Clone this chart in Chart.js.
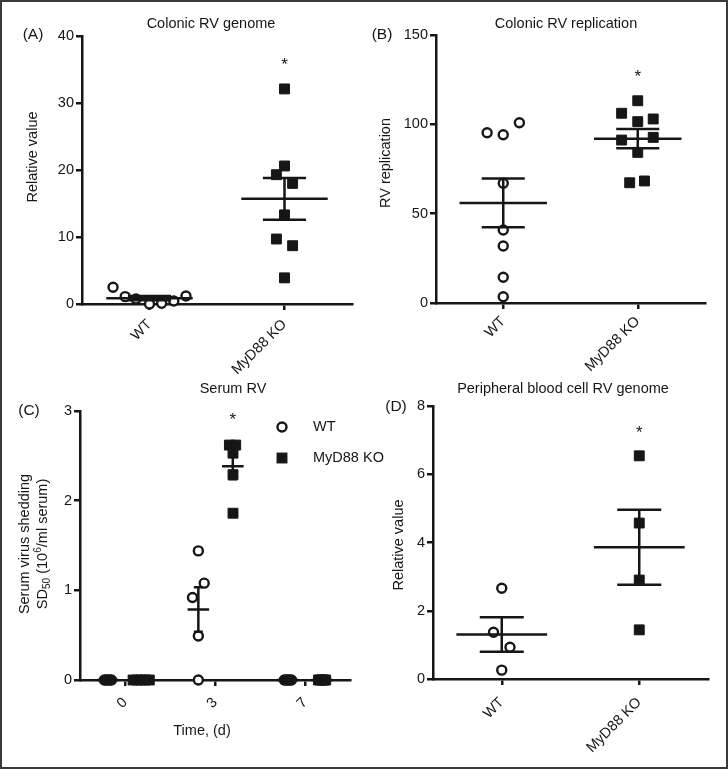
<!DOCTYPE html>
<html>
<head>
<meta charset="utf-8">
<script src="https://cdn.jsdelivr.net/npm/chart.js@4.4.1/dist/chart.umd.min.js"></script>
<style>
  html, body { margin: 0; padding: 0; background: #fff; }
  #fig { position: relative; width: 728px; height: 769px; overflow: hidden; }
  #fig canvas { position: absolute; left: 0; top: 0; }
  #frame { position: absolute; left: 0; top: 0; width: 728px; height: 769px; box-sizing: border-box; border: 2px solid #3a3a3a; pointer-events: none; }
</style>
</head>
<body>
<div id="fig">
  <canvas id="chartA" width="728" height="769"></canvas>
  <canvas id="chartB" width="728" height="769"></canvas>
  <canvas id="chartC" width="728" height="769"></canvas>
  <canvas id="chartD" width="728" height="769"></canvas>
  <div id="frame"></div>
</div>
<script>
// ---- data ----
const groups = ['WT', 'MyD88 KO'];

// (A) colonic RV genome, relative value
const genomeWT = [2.5, 1.1, 0.75, 0, 0.1, 0.45, 1.2];
const genomeWTJitter = [-0.27, -0.18, -0.1, 0, 0.09, 0.18, 0.27];
const genomeKO = [32.1, 20.6, 19.3, 18.0, 13.3, 9.7, 8.7, 3.9];
const genomeKOJitter = [0, 0, -0.06, 0.06, 0, -0.06, 0.06, 0];
const genomeStar = 35.6;

// (B) colonic RV replication
const replWT = [95.3, 94.2, 100.9, 67, 40.9, 31.9, 14.4, 3.5];
const replWTJitter = [-0.12, 0, 0.12, 0, 0, 0, 0, 0];
const replKO = [113.2, 106.2, 101.5, 103, 91.2, 92.7, 84.3, 67.3, 68.3];
const replKOJitter = [0, -0.12, 0, 0.115, -0.12, 0.115, 0, -0.06, 0.05];
const replStar = 126.5;

// (C) serum RV, SD50 (10^6/ml serum) by day
const days = ['0', '3', '7'];
const serumWT = [[0, 0, 0, 0, 0], [1.44, 1.08, 0.92, 0.49, 0], [0, 0, 0, 0, 0]];
const serumWTJitter = [[-0.23, -0.21, -0.19, -0.17, -0.15], [-0.185, -0.12, -0.25, -0.185, -0.185], [-0.23, -0.21, -0.19, -0.17, -0.15]];
const serumKO = [[0, 0, 0, 0, 0], [2.62, 2.62, 2.53, 2.29, 1.86], [0, 0, 0, 0, 0]];
const serumKOJitter = [[0.09, 0.135, 0.18, 0.225, 0.27], [0.16, 0.23, 0.2, 0.2, 0.2], [0.15, 0.17, 0.19, 0.21, 0.23]];
const serumKOStar = [null, 2.9, null];

// (D) peripheral blood cell RV genome
const bloodWT = [2.66, 1.37, 0.93, 0.26];
const bloodWTJitter = [0, -0.06, 0.06, 0];
const bloodKO = [6.54, 4.57, 2.9, 1.44];
const bloodKOJitter = [0, 0, 0, 0];
const bloodStar = 7.2;

// ---- styling ----
const INK = '#161616';
const FONT = '"Liberation Sans", Arial, Helvetica, sans-serif';
const W = 728, H = 769;
const Y_W = 50, X_H = 85;

// points packed on top of each other read as one solid blob in the original
const crowded = c => {
  const pts = c.dataset.data, p = c.raw;
  return !!p && pts.some(q => q !== p && q.y === p.y && Math.abs(q.x - p.x) < 0.05);
};
const wtStyle = { pointStyle: 'circle', pointRadius: 4.5, pointBorderWidth: 2.4, pointBorderColor: INK,
                  pointBackgroundColor: c => crowded(c) ? INK : '#fff' };
const koStyle = { pointStyle: 'rect', pointRadius: 7, pointBorderWidth: 1, pointBorderColor: INK, pointBackgroundColor: INK };

const toPoints = (vals, jit, pos) => vals.map((v, i) => ({ x: pos + jit[i], y: v }));
const avg = a => a.reduce((s, v) => s + v, 0) / a.length;

// mean +/- SEM bars and significance stars
const meanSemPlugin = {
  id: 'meanSem',
  afterDatasetsDraw(chart, args, o) {
    const { ctx } = chart;
    const x = chart.scales.x, y = chart.scales.y;
    ctx.save();
    ctx.strokeStyle = INK;
    ctx.lineWidth = 2.5;
    for (const g of o.groups) {
      const n = g.values.length;
      const m = avg(g.values);
      const sd = Math.sqrt(g.values.reduce((s, v) => s + (v - m) ** 2, 0) / (n - 1));
      const sem = sd / Math.sqrt(n);
      const yM = y.getPixelForValue(m), yHi = y.getPixelForValue(m + sem), yLo = y.getPixelForValue(m - sem);
      ctx.beginPath();
      ctx.moveTo(x.getPixelForValue(g.x - o.half), yM); ctx.lineTo(x.getPixelForValue(g.x + o.half), yM);
      ctx.moveTo(x.getPixelForValue(g.x - o.cap), yHi); ctx.lineTo(x.getPixelForValue(g.x + o.cap), yHi);
      ctx.moveTo(x.getPixelForValue(g.x - o.cap), yLo); ctx.lineTo(x.getPixelForValue(g.x + o.cap), yLo);
      ctx.moveTo(x.getPixelForValue(g.x), yHi); ctx.lineTo(x.getPixelForValue(g.x), yLo);
      ctx.stroke();
      if (g.star != null) {
        ctx.fillStyle = INK;
        ctx.font = `17px ${FONT}`;
        ctx.textAlign = 'center';
        ctx.textBaseline = 'middle';
        ctx.fillText('*', x.getPixelForValue(g.x), y.getPixelForValue(g.star));
      }
    }
    ctx.restore();
  }
};

function drawRich(ctx, line, cx, cy, rot, size) {
  const segs = typeof line === 'string' ? [{ t: line }] : line;
  const fontFor = s => `${(s.sub || s.sup) ? size * 0.7 : size}px ${FONT}`;
  let total = 0;
  for (const s of segs) { ctx.font = fontFor(s); s.w = ctx.measureText(s.t).width; total += s.w; }
  ctx.save();
  ctx.translate(cx, cy);
  ctx.rotate(rot);
  ctx.textAlign = 'left';
  ctx.textBaseline = 'middle';
  let xx = -total / 2;
  for (const s of segs) {
    ctx.font = fontFor(s);
    const dy = s.sub ? size * 0.3 : s.sup ? -size * 0.35 : 0;
    ctx.fillText(s.t, xx, dy);
    xx += s.w;
  }
  ctx.restore();
}

// panel titles, letters, axis titles, legend
const figTextPlugin = {
  id: 'figText',
  afterDraw(chart, args, o) {
    const ctx = chart.ctx;
    ctx.save();
    ctx.fillStyle = INK;
    drawRich(ctx, o.title, o.titleX, o.titleY, 0, 14.5);
    drawRich(ctx, o.letter, o.letterX, o.letterY, 0, 15.5);
    o.yTitle.forEach((line, i) => drawRich(ctx, line, o.yTitleX[i], o.yTitleY, -Math.PI / 2, 14.5));
    if (o.xTitle) drawRich(ctx, o.xTitle, o.xTitleX, o.xTitleY, 0, 14.5);
    if (o.legend) {
      chart.data.datasets.forEach((ds, i) => {
        const lx = o.legend.x, ly = o.legend.y[i];
        ctx.lineWidth = ds.pointBorderWidth;
        ctx.strokeStyle = ds.pointBorderColor;
        ctx.fillStyle = typeof ds.pointBackgroundColor === 'function' ? '#fff' : ds.pointBackgroundColor;
        if (ds.pointStyle === 'circle') {
          ctx.beginPath(); ctx.arc(lx, ly, ds.pointRadius, 0, Math.PI * 2); ctx.fill(); ctx.stroke();
        } else {
          const h = Math.SQRT1_2 * ds.pointRadius;
          ctx.fillRect(lx - h, ly - h, 2 * h, 2 * h); ctx.strokeRect(lx - h, ly - h, 2 * h, 2 * h);
        }
        ctx.fillStyle = INK;
        ctx.font = `14.5px ${FONT}`;
        ctx.textAlign = 'left';
        ctx.textBaseline = 'middle';
        ctx.fillText(ds.label, o.legend.textX, ly);
      });
    }
    ctx.restore();
  }
};

function xAxis(labels, labelGap) {
  return {
    type: 'linear', min: 0.5, max: labels.length + 0.5,
    afterBuildTicks: s => { s.ticks = labels.map((l, i) => ({ value: i + 1 })); },
    afterFit: s => { s.height = X_H; },
    ticks: { callback: v => labels[Math.round(v) - 1], minRotation: 45, maxRotation: 45, autoSkip: false, padding: labelGap, color: INK, font: { family: FONT, size: 14.5 } },
    grid: { drawOnChartArea: false, tickLength: 6, lineWidth: 2.5, tickWidth: 2.5, tickColor: INK, color: INK },
    border: { color: INK, width: 2.5 }
  };
}

function yAxis(max, step) {
  return {
    type: 'linear', min: 0, max: max,
    afterFit: s => { s.width = Y_W; },
    ticks: { stepSize: step, padding: 2, color: INK, font: { family: FONT, size: 14.5 } },
    grid: { drawOnChartArea: false, tickLength: 6, lineWidth: 2.5, tickWidth: 2.5, tickColor: INK, color: INK },
    border: { color: INK, width: 2.5 }
  };
}

function makePanel(id, p) {
  return new Chart(document.getElementById(id), {
    type: 'scatter',
    data: { datasets: p.datasets },
    options: {
      responsive: false,
      animation: false,
      events: [],
      layout: {
        autoPadding: false,
        padding: { left: p.area.left - Y_W, right: W - p.area.right, top: p.area.top, bottom: H - p.area.bottom - X_H }
      },
      plugins: {
        legend: { display: false },
        tooltip: { enabled: false },
        meanSem: p.stats,
        figText: p.text
      },
      scales: { x: xAxis(p.labels, p.labelGap), y: yAxis(p.yMax, p.yStep) }
    },
    plugins: [meanSemPlugin, figTextPlugin]
  });
}

// (A)
makePanel('chartA', {
  area: { left: 82, right: 352, top: 36, bottom: 304 },
  labels: groups, labelGap: 6, yMax: 40, yStep: 10,
  datasets: [
    { label: 'WT', data: toPoints(genomeWT, genomeWTJitter, 1), clip: false, ...wtStyle },
    { label: 'MyD88 KO', data: toPoints(genomeKO, genomeKOJitter, 2), clip: false, ...koStyle }
  ],
  stats: { half: 0.32, cap: 0.16, groups: [{ x: 1, values: genomeWT }, { x: 2, values: genomeKO, star: genomeStar }] },
  text: { title: 'Colonic RV genome', titleX: 211, titleY: 24, letter: '(A)', letterX: 33, letterY: 35,
          yTitle: ['Relative value'], yTitleX: [33], yTitleY: 157 }
});

// (B)
makePanel('chartB', {
  area: { left: 436, right: 705, top: 35, bottom: 303 },
  labels: groups, labelGap: 4, yMax: 150, yStep: 50,
  datasets: [
    { label: 'WT', data: toPoints(replWT, replWTJitter, 1), clip: false, ...wtStyle },
    { label: 'MyD88 KO', data: toPoints(replKO, replKOJitter, 2), clip: false, ...koStyle }
  ],
  stats: { half: 0.325, cap: 0.16, groups: [{ x: 1, values: replWT }, { x: 2, values: replKO, star: replStar }] },
  text: { title: 'Colonic RV replication', titleX: 566, titleY: 24, letter: '(B)', letterX: 382, letterY: 35,
          yTitle: ['RV replication'], yTitleX: [386], yTitleY: 163 }
});

// (C)
const serumGroups = [];
days.forEach((d, di) => {
  serumGroups.push({ x: di + 1 + avg(serumWTJitter[di]), values: serumWT[di] });
  serumGroups.push({ x: di + 1 + avg(serumKOJitter[di]), values: serumKO[di], star: serumKOStar[di] });
});
makePanel('chartC', {
  area: { left: 80, right: 350, top: 411, bottom: 680 },
  labels: days, labelGap: 8, yMax: 3, yStep: 1,
  datasets: [
    { label: 'WT', data: days.flatMap((d, di) => toPoints(serumWT[di], serumWTJitter[di], di + 1)), clip: false, ...wtStyle },
    { label: 'MyD88 KO', data: days.flatMap((d, di) => toPoints(serumKO[di], serumKOJitter[di], di + 1)), clip: false, ...koStyle }
  ],
  stats: { half: 0.12, cap: 0.05, groups: serumGroups },
  text: { title: 'Serum RV', titleX: 233, titleY: 389, letter: '(C)', letterX: 29, letterY: 411,
          yTitle: ['Serum virus shedding', [{ t: 'SD' }, { t: '50', sub: true }, { t: ' (10' }, { t: '6', sup: true }, { t: '/ml serum)' }]],
          yTitleX: [25, 43], yTitleY: 544,
          xTitle: 'Time, (d)', xTitleX: 202, xTitleY: 731,
          legend: { x: 282, y: [427, 458], textX: 313 } }
});

// (D)
makePanel('chartD', {
  area: { left: 433, right: 708, top: 406, bottom: 679 },
  labels: groups, labelGap: 9, yMax: 8, yStep: 2,
  datasets: [
    { label: 'WT', data: toPoints(bloodWT, bloodWTJitter, 1), clip: false, ...wtStyle },
    { label: 'MyD88 KO', data: toPoints(bloodKO, bloodKOJitter, 2), clip: false, ...koStyle }
  ],
  stats: { half: 0.33, cap: 0.16, groups: [{ x: 1, values: bloodWT }, { x: 2, values: bloodKO, star: bloodStar }] },
  text: { title: 'Peripheral blood cell RV genome', titleX: 563, titleY: 389, letter: '(D)', letterX: 396, letterY: 407,
          yTitle: ['Relative value'], yTitleX: [399], yTitleY: 545 }
});
</script>
</body>
</html>
